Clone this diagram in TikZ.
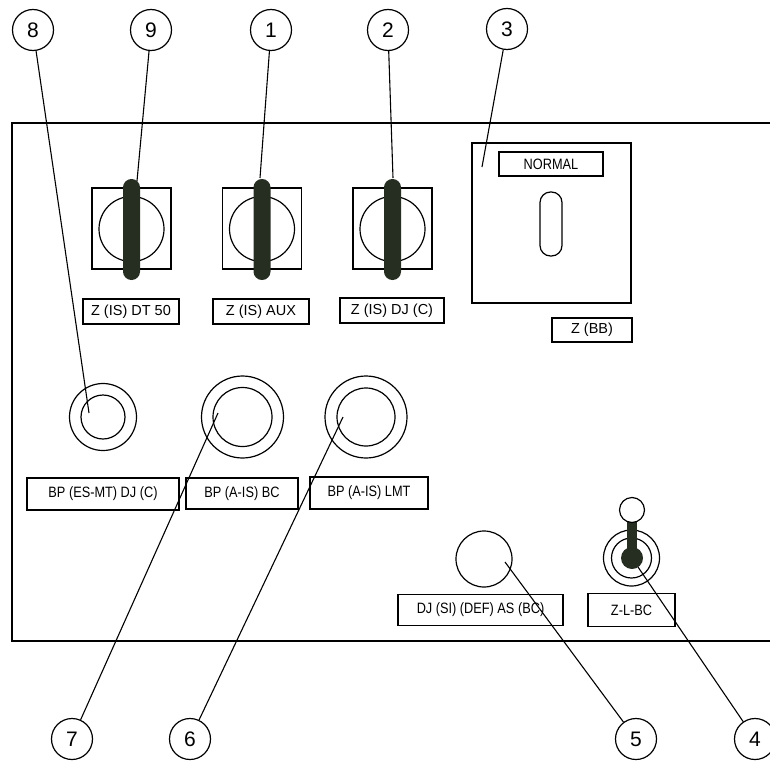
\documentclass[tikz,border=0pt]{standalone}
\usepackage{fontspec}
\setmainfont{Liberation Sans}
\newfontfamily\narrowsans[FakeStretch=0.85]{Liberation Sans}
\definecolor{knob}{RGB}{38,46,34}
\begin{document}
\begin{tikzpicture}[x=1pt,y=-1pt,
  callout/.style={circle,draw,line width=1.2pt,minimum size=41pt,inner sep=0pt,font=\fontsize{21}{24}\selectfont},
  lead/.style={line width=1.1pt},
  lbl/.style={draw,line width=1.3pt,inner sep=0pt,font=\fontsize{14.5}{17}\selectfont},
  lblnarrow/.style={lbl,font=\narrowsans\fontsize{15}{18}\selectfont},
  sqplate/.style={draw,line width=1.2pt,minimum width=79pt,minimum height=81pt,inner sep=0pt},
  dial/.style={draw,circle,line width=1.2pt,minimum size=65pt,inner sep=0pt},
  lever/.style={fill=knob,rounded corners=8.4pt,minimum width=17pt,minimum height=101pt,inner sep=0pt},
  ring/.style={draw,circle,line width=1.2pt,inner sep=0pt},
  panelline/.style={line width=1.8pt}
]
\useasboundingbox (0,0) rectangle (770,760);

% panel
\draw[panelline] (775,123) -- (12,123) -- (12,641) -- (775,641);

% rotary switches
\foreach \n/\x in {9/131.5,1/262,2/392.5}{
  \node[sqplate] (sq\n) at (\x,228.5) {};
  \node[dial] (dial\n) at (\x,229) {};
  \node[lever] (lev\n) at (\x,229.5) {};
}
\node[lbl,minimum width=96pt,minimum height=25pt] (l9) at (131,311.5) {Z (IS) DT 50};
\node[lbl,minimum width=96pt,minimum height=25pt] (l1) at (261,311.5) {Z (IS) AUX};
\node[lbl,minimum width=104pt,minimum height=25pt] (l2) at (392,310.5) {Z (IS) DJ (C)};

% block 3
\node[draw,line width=1.2pt,minimum width=159pt,minimum height=160pt,inner sep=0pt] (blk3) at (551.5,223) {};
\node[lblnarrow,minimum width=104pt,minimum height=24pt] (normal) at (551,164) {NORMAL};
\node[draw,line width=1.2pt,rounded corners=10.5pt,minimum width=22pt,minimum height=64pt,inner sep=0pt] (slot) at (551,224) {};
\node[lbl,minimum width=80pt,minimum height=24pt] (lbb) at (592,330) {Z (BB)};

% push buttons
\node[ring,minimum size=67pt] (b8o) at (103,417) {};
\node[ring,minimum size=44pt] (b8i) at (103,417) {};
\node[ring,minimum size=82pt] (b7o) at (242.5,417) {};
\node[ring,minimum size=59pt] (b7i) at (242.5,417) {};
\node[ring,minimum size=82pt] (b6o) at (366,417) {};
\node[ring,minimum size=58pt] (b6i) at (366,417) {};
\node[lblnarrow,minimum width=152pt,minimum height=32pt] (l8) at (103,494) {BP (ES-MT) DJ (C)};
\node[lblnarrow,minimum width=112pt,minimum height=31pt] (l7) at (242,493.5) {BP (A-IS) BC};
\node[lblnarrow,minimum width=118pt,minimum height=32pt] (l6) at (369,493) {BP (A-IS) LMT};

% button 5
\node[ring,minimum size=56pt] (b5) at (484,559) {};
\node[lblnarrow,minimum width=165pt,minimum height=31pt] (l5) at (480.5,610) {DJ (SI) (DEF) AS (BC)};

% toggle 4
\node[ring,minimum size=56pt] (t4o) at (631.5,558) {};
\node[ring,minimum size=40pt] (t4m) at (631.5,558) {};
\node[fill=knob,minimum width=10pt,minimum height=38pt,inner sep=0pt] (t4s) at (632,539) {};
\node[circle,fill=knob,minimum size=22pt,inner sep=0pt] (t4b) at (632,558) {};
\node[ring,fill=white,minimum size=25pt] (t4t) at (632,510) {};
\node[lblnarrow,minimum width=87pt,minimum height=33pt] (l4) at (631.5,610) {Z-L-BC};

% callouts
\node[callout] (c8) at (33,30) {8};
\node[callout] (c9) at (151,30) {9};
\node[callout] (c1) at (271,30) {1};
\node[callout] (c2) at (388,30) {2};
\node[callout] (c3) at (507,29) {3};
\node[callout] (c7) at (72,739) {7};
\node[callout] (c6) at (190,739) {6};
\node[callout] (c5) at (636,739) {5};
\node[callout] (c4) at (755,739) {4};

\coordinate (p8) at (89,413);
\coordinate (p9) at (137,181);
\coordinate (p1) at (260,178);
\coordinate (p2) at (393,178);
\coordinate (p3) at (482,167);
\coordinate (p7) at (218,413);
\coordinate (p6) at (343,417);
\coordinate (p5) at (505,562);
\coordinate (p4) at (638,567);

\foreach \n in {8,9,1,2,3,7,6,5,4}{
  \draw[lead] (c\n) -- (p\n);
}
\end{tikzpicture}
\end{document}
